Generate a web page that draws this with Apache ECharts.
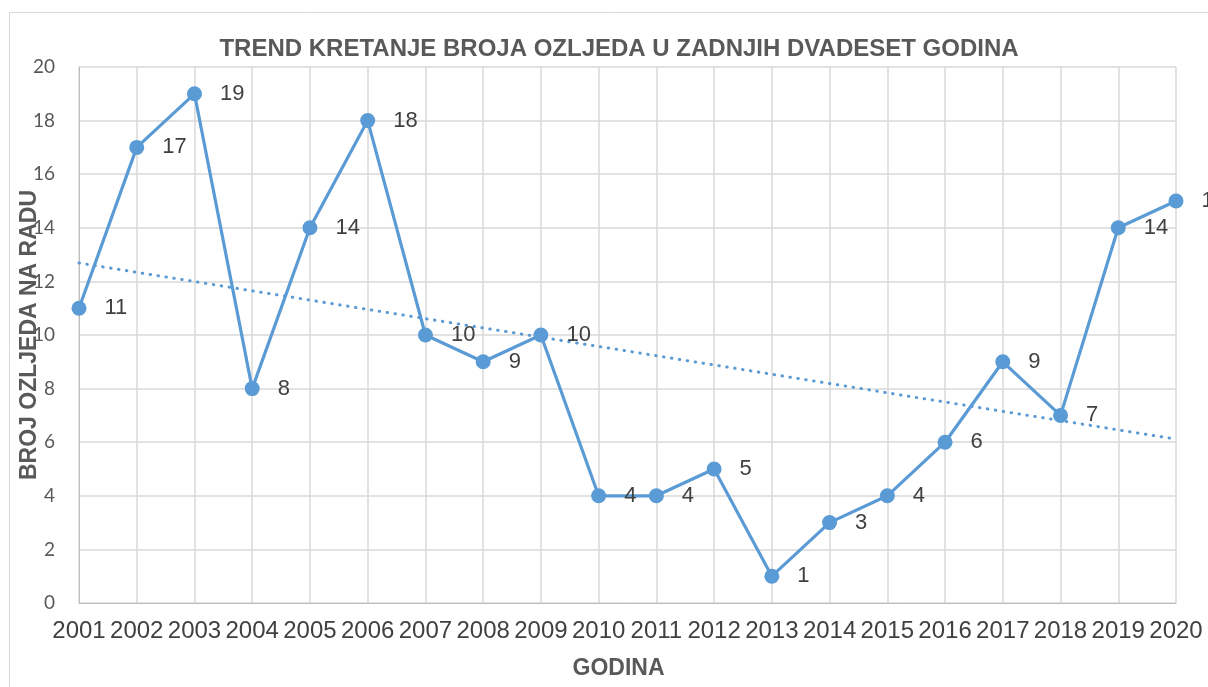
<!DOCTYPE html>
<html>
<head>
<meta charset="utf-8">
<script src="https://cdn.jsdelivr.net/npm/echarts@6/dist/echarts.min.js"></script>
<style>
  html, body { margin: 0; padding: 0; background: #fff; }
  #chart { width: 1208px; height: 687px; }
</style>
</head>
<body>
<div id="chart"></div>
<script>
// Godine i broj ozljeda na radu
const years = ['2001','2002','2003','2004','2005','2006','2007','2008','2009','2010',
               '2011','2012','2013','2014','2015','2016','2017','2018','2019','2020'];
const injuries = [11, 17, 19, 8, 14, 18, 10, 9, 10, 4, 4, 5, 1, 3, 4, 6, 9, 7, 14, 15];
const yTicks = [0, 2, 4, 6, 8, 10, 12, 14, 16, 18, 20];

// Linearni trend (metoda najmanjih kvadrata)
function linearTrend(values) {
  const n = values.length;
  const mx = (n + 1) / 2;
  const my = values.reduce((a, b) => a + b, 0) / n;
  let sxy = 0, sxx = 0;
  values.forEach((v, i) => {
    const dx = (i + 1) - mx;
    sxy += dx * (v - my);
    sxx += dx * dx;
  });
  const k = sxy / sxx;
  return values.map((_, i) => my + k * ((i + 1) - mx));
}
const trend = linearTrend(injuries);

const font = '"Liberation Sans", Arial, sans-serif';
const blue = '#5b9bd5';

const chart = echarts.init(document.getElementById('chart'));
chart.setOption({
  animation: false,
  backgroundColor: '#fff',
  title: {
    text: 'TREND KRETANJE BROJA OZLJEDA U ZADNJIH DVADESET GODINA',
    left: 614, top: 32, textAlign: 'center',
    textStyle: { fontFamily: font, fontSize: 24, fontWeight: 'bold', color: '#595959' }
  },
  graphic: [{
    type: 'rect', silent: true,
    shape: { x: 9.5, y: 12.5, width: 1300, height: 800 },
    style: { fill: 'none', stroke: '#d9d9d9', lineWidth: 1 }
  }],
  grid: { left: 79, right: 32, top: 67, bottom: 84, containLabel: false, outerBoundsMode: 'none' },
  xAxis: {
    type: 'category', data: years, boundaryGap: false,
    name: 'GODINA', nameLocation: 'middle', nameGap: 54, nameMoveOverlap: false,
    nameTextStyle: { fontFamily: font, fontSize: 23, fontWeight: 'bold', color: '#595959', padding: [0, 18, 0, 0] },
    axisLine: { lineStyle: { color: '#bfbfbf', width: 1 } },
    axisTick: { show: false },
    axisLabel: { interval: 0, hideOverlap: false, margin: 16, fontFamily: font, fontSize: 24, color: '#404040' },
    splitLine: { show: true, interval: 0, lineStyle: { color: '#d9d9d9', width: 1.5 } }
  },
  yAxis: {
    type: 'value', min: yTicks[0], max: yTicks[yTicks.length - 1], interval: 2,
    name: 'BROJ OZLJEDA NA RADU', nameLocation: 'middle', nameGap: 38, nameMoveOverlap: false,
    nameTextStyle: { fontFamily: font, fontSize: 23, fontWeight: 'bold', color: '#595959' },
    axisLine: { show: true, lineStyle: { color: '#bfbfbf', width: 1 } },
    axisTick: { show: false },
    axisLabel: { margin: 24, fontFamily: 'Lato, ' + font, fontSize: 19, color: '#595959' },
    splitLine: { show: true, lineStyle: { color: '#d9d9d9', width: 1.5 } }
  },
  series: [
    {
      name: 'Trend', type: 'line', data: trend, symbol: 'none', z: 1,
      lineStyle: { color: blue, width: 3, type: [0.5, 7.5], cap: 'round' },
      silent: true
    },
    {
      name: 'Broj ozljeda', type: 'line', data: injuries, z: 3,
      symbol: 'circle', symbolSize: 15,
      itemStyle: { color: blue },
      lineStyle: { color: blue, width: 3.2 },
      label: {
        show: true, position: 'right', distance: 18,
        fontFamily: font, fontSize: 22, color: '#404040'
      }
    }
  ]
});
</script>
</body>
</html>
